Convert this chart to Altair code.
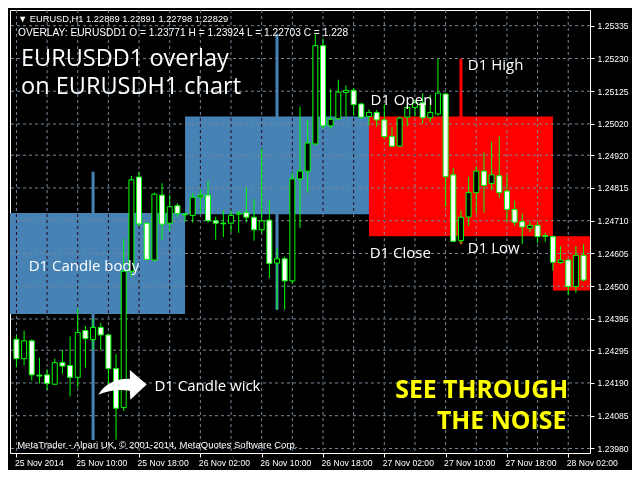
import altair as alt
import pandas as pd

# ---------------- data ----------------
bars = list(range(75))  # hourly bars, bar 0 = 25 Nov 02:00

opens = [
    1.24330, 1.24268, 1.24325, 1.24215, 1.24216, 1.24186, 1.24255, 1.24246, 1.24208, 1.24358,
    1.24329, 1.24368, 1.24344, 1.24236, 1.24111, 1.24548, 1.24850, 1.24702, 1.24584, 1.24792,
    1.24702, 1.24758, 1.24731, 1.24727, 1.24786, 1.24792, 1.24710, 1.24702, 1.24702, 1.24731,
    1.24736, 1.24721, 1.24681, 1.24712, 1.24574, 1.24588, 1.24517, 1.24844, 1.24869, 1.24956,
    1.25271, 1.25014, 1.25037, 1.25121, 1.25128, 1.25084, 1.25044, 1.25057, 1.25033, 1.24980,
    1.24949, 1.25042, 1.25073, 1.25088, 1.25040, 1.25052, 1.25116, 1.24857, 1.24646, 1.24722,
    1.24800, 1.24869, 1.24829, 1.24854, 1.24805, 1.24746, 1.24707, 1.24686, 1.24695, 1.24662,
    1.24659, 1.24576, 1.24584, 1.24499, 1.24599]
highs = [
    1.24342, 1.24358, 1.24330, 1.24271, 1.24234, 1.24268, 1.24296, 1.24339, 1.24429, 1.24373,
    1.24396, 1.24382, 1.24348, 1.24283, 1.24651, 1.24854, 1.24867, 1.24703, 1.24800, 1.24830,
    1.24792, 1.24766, 1.24735, 1.24800, 1.24810, 1.24838, 1.24723, 1.24743, 1.24743, 1.24742,
    1.24816, 1.24779, 1.24941, 1.24776, 1.24622, 1.24595, 1.24864, 1.25076, 1.25034, 1.25309,
    1.25294, 1.25132, 1.25162, 1.25144, 1.25135, 1.25088, 1.25067, 1.25064, 1.25083, 1.25011,
    1.25043, 1.25083, 1.25098, 1.25119, 1.25114, 1.25229, 1.25120, 1.24879, 1.24743, 1.24851,
    1.24882, 1.24929, 1.24963, 1.24981, 1.24857, 1.24774, 1.24733, 1.24707, 1.24707, 1.24671,
    1.24663, 1.24628, 1.24586, 1.24629, 1.24635]
lows = [
    1.24240, 1.24247, 1.24198, 1.24188, 1.24167, 1.24183, 1.24219, 1.24147, 1.24175, 1.24239,
    1.24296, 1.24296, 1.24178, 1.24008, 1.24100, 1.24530, 1.24692, 1.24584, 1.24579, 1.24649,
    1.24676, 1.24721, 1.24707, 1.24704, 1.24733, 1.24704, 1.24649, 1.24658, 1.24673, 1.24671,
    1.24704, 1.24646, 1.24671, 1.24525, 1.24425, 1.24425, 1.24507, 1.24687, 1.24800, 1.24951,
    1.25006, 1.25006, 1.25034, 1.25043, 1.25047, 1.25037, 1.25015, 1.25011, 1.24972, 1.24946,
    1.24946, 1.25013, 1.25044, 1.25021, 1.25026, 1.25047, 1.24754, 1.24641, 1.24635, 1.24694,
    1.24733, 1.24735, 1.24808, 1.24784, 1.24707, 1.24694, 1.24635, 1.24673, 1.24638, 1.24642,
    1.24550, 1.24571, 1.24471, 1.24479, 1.24515]
closes = [
    1.24268, 1.24325, 1.24216, 1.24212, 1.24188, 1.24255, 1.24244, 1.24208, 1.24352, 1.24332,
    1.24368, 1.24344, 1.24236, 1.24109, 1.24548, 1.24841, 1.24700, 1.24586, 1.24795, 1.24699,
    1.24755, 1.24733, 1.24729, 1.24785, 1.24792, 1.24710, 1.24702, 1.24700, 1.24727, 1.24734,
    1.24721, 1.24681, 1.24709, 1.24573, 1.24588, 1.24517, 1.24844, 1.24869, 1.24959, 1.25271,
    1.25014, 1.25035, 1.25122, 1.25128, 1.25082, 1.25042, 1.25057, 1.25033, 1.24980, 1.24949,
    1.25039, 1.25073, 1.25088, 1.25040, 1.25057, 1.25119, 1.24851, 1.24644, 1.24721, 1.24800,
    1.24869, 1.24823, 1.24857, 1.24800, 1.24746, 1.24705, 1.24690, 1.24695, 1.24659, 1.24660,
    1.24577, 1.24584, 1.24499, 1.24599, 1.24520]

# D1 overlay candles (first hourly bar index of each day, 24 bars per day)
day_names = ["25 Nov", "26 Nov", "27 Nov", "28 Nov"]
day_first_bar = [-2, 22, 46, 70]
day_open = [1.24411, 1.24731, 1.25044, 1.24660]
day_high = [1.24867, 1.25309, 1.25229, 1.24663]
day_low = [1.24007, 1.24425, 1.24635, 1.24471]
day_close = [1.24735, 1.25044, 1.24660, 1.24486]

x_tick_bars = [0, 8, 16, 24, 32, 40, 48, 56, 64, 72]
x_tick_labels = ["25 Nov 2014", "25 Nov 10:00", "25 Nov 18:00", "26 Nov 02:00",
                 "26 Nov 10:00", "26 Nov 18:00", "27 Nov 02:00", "27 Nov 10:00",
                 "27 Nov 18:00", "28 Nov 02:00"]
y_tick_values = [1.25335, 1.25230, 1.25125, 1.25020, 1.24920, 1.24815, 1.24710,
                 1.24605, 1.24500, 1.24395, 1.24295, 1.24190, 1.24085, 1.23980]
v_grid_bars = list(range(0, 75, 4))

# annotations: (style, text, bar position, price position, font size)
annotations = [
    ("header", "\u25BC EURUSD,H1  1.22889 1.22891 1.22798 1.22829", 0.2, 1.25348, 9.3),
    ("header", "OVERLAY: EURUSDD1 O = 1.23771 H = 1.23924 L = 1.22703 C = 1.228", 0.2, 1.25302, 10.2),
    ("title", "EURUSDD1 overlay", 0.6, 1.25206, 23.5),
    ("title", "on EURUSDH1 chart", 0.6, 1.25117, 23.5),
    ("label", "D1 Open", 46.2, 1.25080, 15),
    ("label", "D1 High", 58.9, 1.25194, 15),
    ("label", "D1 Close", 46.1, 1.24589, 15),
    ("label", "D1 Low", 58.9, 1.24608, 15),
    ("label", "D1 Candle body", 1.6, 1.24549, 15),
    ("label", "D1 Candle wick", 18.0, 1.24163, 15),
    ("slogan", "SEE THROUGH", 72.0, 1.24141, 24.8),
    ("slogan", "THE NOISE", 71.75, 1.24043, 24.8),
    ("footer", "MetaTrader - Alpari UK, \u00A9 2001-2014, MetaQuotes Software Corp.", 0.1, 1.23981, 9.5),
]
arrow_anchor = {"i": [13.9], "p": [1.24185]}

# ---------------- chart ----------------
xs = alt.Scale(domain=[-0.1875, 74.1875], nice=False, zero=False)
ys = alt.Scale(domain=[1.239655, 1.253853], nice=False, zero=False)

cdf = pd.DataFrame(dict(i=bars, o=opens, h=highs, l=lows, c=closes))
ddf = pd.DataFrame(dict(day=day_names, s=day_first_bar, o=day_open, h=day_high,
                        l=day_low, c=day_close))
ddf["e"] = ddf["s"] + 24
ddf["m"] = ddf["s"] + 12

GRID = "#778899"
LIME = "#00FF00"
BLUE = "#4682B4"
RED = "#FF0000"

label_expr = "[" + ",".join("'%s'" % t for t in x_tick_labels) + "][round(datum.value / 8)]"

x_axis = alt.Axis(values=x_tick_bars, labelExpr=label_expr, orient="bottom", grid=False,
                  domain=False, ticks=True, tickColor="white", tickSize=4,
                  labelColor="white", labelFont="Liberation Sans", labelFontSize=8.6,
                  labelAlign="left", labelBaseline="top", labelPadding=1, labelOffset=-2,
                  labelOverlap=False, labelFlush=False, title=None)
y_axis = alt.Axis(values=y_tick_values, format=".5f", orient="right", grid=False,
                  domain=False, ticks=True, tickColor="white", tickSize=4,
                  labelColor="white", labelFont="Liberation Sans", labelFontSize=8.6,
                  labelAlign="left", labelBaseline="middle", labelPadding=3,
                  labelOverlap=False, labelFlush=False, title=None)


def X(field):
    return alt.X(field, type="quantitative", scale=xs, axis=x_axis)


def Y(field):
    return alt.Y(field, type="quantitative", scale=ys, axis=y_axis)


day_color = alt.condition("datum.c >= datum.o", alt.value(BLUE), alt.value(RED))

day_boxes = alt.Chart(ddf).mark_rect(clip=True).encode(
    x=X("s"), x2="e:Q", y=Y("o"), y2="c:Q", color=day_color)
day_wicks = alt.Chart(ddf).mark_rule(clip=True, strokeWidth=3).encode(
    x=X("m"), y=Y("h"), y2="l:Q", color=day_color)

hgrid = alt.Chart(pd.DataFrame({"v": y_tick_values})).mark_rule(
    color=GRID, strokeDash=[3, 3], strokeWidth=1).encode(y=Y("v"))
vgrid = alt.Chart(pd.DataFrame({"g": v_grid_bars})).mark_rule(
    color=GRID, strokeDash=[3, 3], strokeWidth=1, blend="difference").encode(x=X("g"))

wicks = alt.Chart(cdf).mark_rule(color=LIME, strokeWidth=1, clip=True).encode(
    x=X("i"), y=Y("h"), y2="l:Q")
bodies = alt.Chart(cdf).mark_bar(size=5, stroke=LIME, strokeWidth=1, clip=True).encode(
    x=X("i"), y=Y("o"), y2="c:Q",
    fill=alt.condition("datum.c > datum.o", alt.value("black"), alt.value("white")))

adf = pd.DataFrame(annotations, columns=["style", "t", "i", "p", "fs"])


def text_layer(style, **props):
    return alt.Chart(adf[adf["style"] == style]).mark_text(baseline="alphabetic", **props).encode(
        x=X("i"), y=Y("p"), text="t:N",
        size=alt.Size("fs:Q", scale=None, legend=None))


t_header = text_layer("header", align="left", font="Liberation Sans", color="white")
t_title = text_layer("title", align="left", font="Open Sans", color="white")
t_label = text_layer("label", align="left", font="Open Sans", color="white")
t_slogan = text_layer("slogan", align="right", font="Open Sans", fontWeight="bold", color="#FFFF00")
t_footer = text_layer("footer", align="left", font="Liberation Sans", color="white")

arrow_path = ("M -0.97 0.4 Q -0.55 -0.25 0.27 -0.22 L 0.27 -0.57 L 0.93 0 "
              "L 0.29 0.6 L 0.27 0.24 Q -0.4 0.15 -0.97 0.4 Z")
arrow = alt.Chart(pd.DataFrame(arrow_anchor)).mark_point(
    shape=arrow_path, filled=True, color="white", opacity=1, size=2600, strokeWidth=0).encode(
    x=X("i"), y=Y("p"))

chart = alt.layer(
    day_boxes, day_wicks, hgrid, vgrid, wicks, bodies,
    t_header, t_title, t_label, t_slogan, t_footer, arrow
).properties(
    width=580, height=443,
    padding={"left": 2, "top": 2, "right": 42, "bottom": 17},
    autosize=alt.AutoSizeParams(type="none"),
    background="black",
).configure_view(stroke="white", strokeWidth=1, fill="black")

chart.save("out.html", embed_options={"renderer": "svg", "actions": False})
